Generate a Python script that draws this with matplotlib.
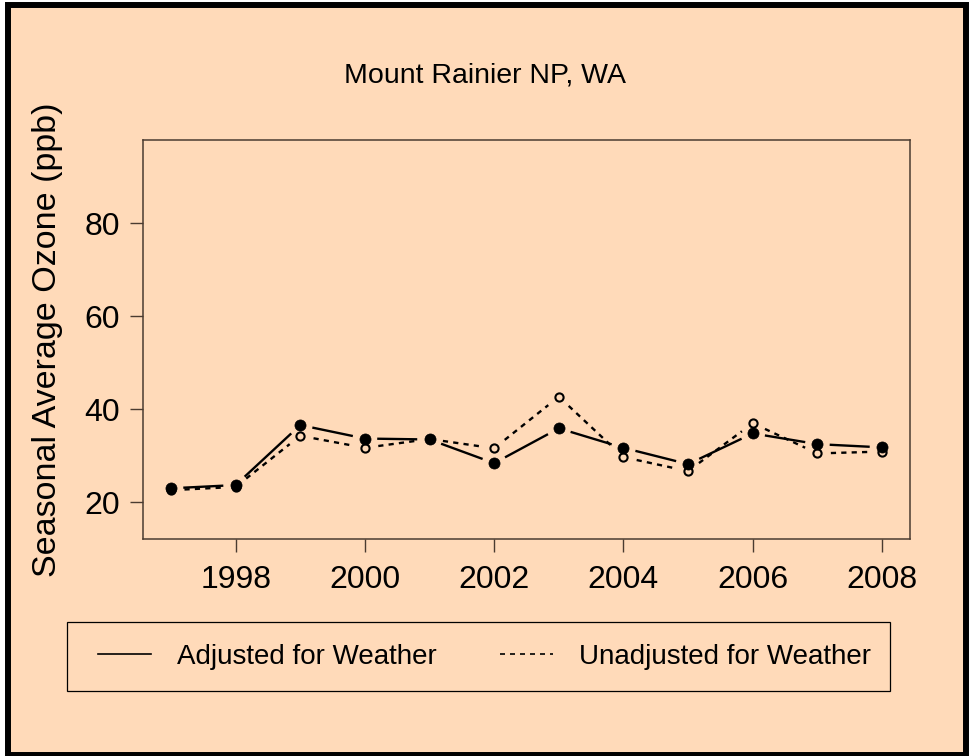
import numpy as np
import matplotlib
matplotlib.use("Agg")
import matplotlib.pyplot as plt
from matplotlib.lines import Line2D
from matplotlib.patches import Rectangle

plt.rcParams['font.family'] = ['Liberation Sans', 'DejaVu Sans']

years = [1997, 1998, 1999, 2000, 2001, 2002, 2003, 2004, 2005, 2006, 2007, 2008]
adjusted = [23.0, 23.7, 36.6, 33.7, 33.5, 28.4, 35.9, 31.7, 28.2, 34.8, 32.5, 31.8]
unadjusted = [22.6, 23.3, 34.3, 31.7, 33.6, 31.6, 42.7, 29.7, 26.7, 37.0, 30.5, 30.9]
xticks = [1998, 2000, 2002, 2004, 2006, 2008]
yticks = [20, 40, 60, 80]
title = "Mount Rainier NP, WA"
ylabel = "Seasonal Average Ozone (ppb)"
labels = ["Adjusted for Weather", "Unadjusted for Weather"]

bg = "peachpuff"
axcol = "#4a3b30"
W, H = 969, 756

fig = plt.figure(figsize=(W / 100, H / 100), dpi=100, facecolor="white")
# outer frame
fig.patches.append(Rectangle((8 / W, 1 - 754.8 / H), (966 - 8) / W, (754.8 - 4.7) / H,
                             transform=fig.transFigure, facecolor=bg,
                             edgecolor="black", lw=4.3, zorder=-10))

ax = fig.add_axes([143 / W, 1 - 539 / H, (910 - 143) / W, (539 - 140) / H])
ax.set_facecolor(bg)
ax.set_xlim(1996.567, 2008.433)
ax.set_ylim(12.1, 97.9)
ax.set_xticks(xticks)
ax.set_yticks(yticks)
ax.tick_params(labelsize=23, length=9.4, width=1.0, color=axcol, pad=7)
ax.tick_params(axis='x', pad=9)
for s in ax.spines.values():
    s.set_color(axcol)
    s.set_linewidth(1.1)
ax.set_ylabel(ylabel, fontsize=24.5)
ax.yaxis.set_label_coords(-0.104, 0.5)


def gapped(x, y, gap=13.5):
    # R type="b": segments stop short of the points
    pts = ax.transData.transform(np.column_stack([x, y]))
    inv = ax.transData.inverted()
    segs = []
    for p, q in zip(pts[:-1], pts[1:]):
        d = q - p
        L = np.hypot(*d)
        if L <= 2 * gap:
            continue
        u = d / L
        segs.append(inv.transform(np.array([p + u * gap, q - u * gap])))
    return segs


for seg in gapped(years, unadjusted):
    ax.plot(seg[:, 0], seg[:, 1], color="black", lw=1.7, dashes=(2.2, 2.2))
for seg in gapped(years, adjusted):
    ax.plot(seg[:, 0], seg[:, 1], color="black", lw=1.7)
ax.plot(years, unadjusted, ls="none", marker="o", ms=5.9, mew=1.5,
        mfc=bg, mec="black")
ax.plot(years, adjusted, ls="none", marker="o", ms=8, mew=0.5,
        mfc="black", mec="black")

fig.text(0.5, 1 - 75 / H, title, fontsize=20.5, ha="center", va="center")

# legend
fig.patches.append(Rectangle((67 / W, 1 - 691 / H), (890 - 67) / W, (691 - 622) / H,
                             transform=fig.transFigure, fill=False,
                             edgecolor="black", lw=0.9))
handles = [Line2D([], [], color="black", lw=1.2),
           Line2D([], [], color="black", lw=1.2, dashes=(3, 3))]
fig.legend(handles, labels, loc="center", bbox_to_anchor=(484.5 / W, 1 - 657 / H),
           ncol=2, frameon=False, fontsize=20, handlelength=1.9,
           handletextpad=0.94, columnspacing=2.3)

fig.savefig("out.png", dpi=100, facecolor="white")
